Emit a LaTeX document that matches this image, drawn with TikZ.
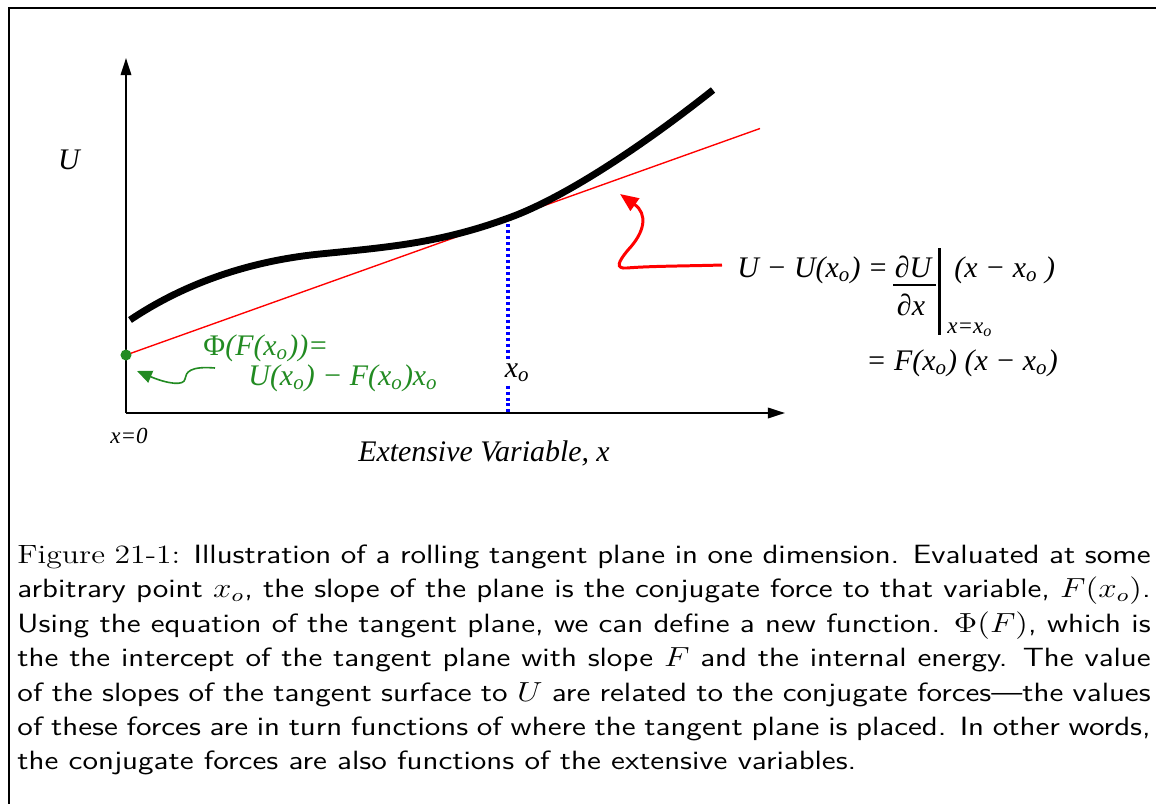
\documentclass[tikz,border=0pt]{standalone}
\usepackage{fontspec}
\newfontfamily\figfont{Liberation Serif}
\usetikzlibrary{arrows.meta}
\definecolor{phigreen}{RGB}{34,139,34}
\newcommand{\xo}{x\textsubscript{o}}
\newcommand{\widecaption}[1]{\scalebox{1.2}[1]{\parbox[t]{410.8pt}{%
  \sffamily\fontsize{11.5}{15}\selectfont #1}}}
\tikzset{
  % --- axes and curves ---
  axis/.style={line width=0.85pt, -{Triangle[length=7.5pt, width=4.6pt]}},
  ucurve/.style={line width=3pt},
  tangent/.style={red, line width=0.6pt},
  dropline/.style={blue, line width=1.4pt, dash pattern=on 1.3pt off 1.3pt},
  % --- labels ---
  lbl/.style={font=\figfont\itshape\fontsize{13}{15}\selectfont, inner sep=0pt},
  smalllbl/.style={font=\figfont\itshape\fontsize{10}{12}\selectfont, inner sep=0pt},
  philbl/.style={lbl, text=phigreen},
  % --- pointers ---
  pointer/.style={red, line width=1.3pt, -{Triangle[length=8pt, width=6.5pt]}},
  phipointer/.style={phigreen, line width=0.7pt, -{Triangle[length=6.5pt, width=5.5pt]}},
  captiontext/.style={inner sep=0pt},
}

\begin{document}
\begin{tikzpicture}[x=0.435pt, y=-0.435pt]
    \useasboundingbox (0,0) rectangle (1156,804);
    % ---- Frame ----
    \draw[line width=1.2pt] (9,804) |- (1156,8);
    % ---- Axes ----
    \coordinate (origin) at (126,413);
    \coordinate (ytip) at (126,58);
    \coordinate (xtip) at (785,413);
    \draw[axis] (origin) -- (ytip);
    \draw[axis] (origin) -- (xtip);
    % ---- Tangent point and intercept ----
    \coordinate (xo) at (508,218.2);
    \coordinate (xofoot) at (508,413);
    \coordinate (phi) at (126,355);
    \coordinate (tanend) at (760,128.5);
    \draw[dropline] (xo) -- (xofoot);
    \node[lbl, fill=white, inner sep=1pt, anchor=base west] (xolbl) at (502,377) {\xo};
    \draw[tangent] (phi) -- (tanend);
    % ---- U(x) ----
    \draw[ucurve] (130,320) .. controls (185,283) and (250,261) .. (320,254)
      .. controls (390,247) and (440,243) .. (xo)
      .. controls (568,196.7) and (650,140) .. (713,90);
    \fill[phigreen] (phi) circle (2.4pt);
    % ---- Axis labels ----
    \node[lbl, anchor=base] (ulbl) at (69,170) {U};
    \node[smalllbl, anchor=base west] (x0lbl) at (110,443) {x=0};
    \node[lbl, anchor=base] (xlbl) at (484,461) {Extensive Variable, x};
    % ---- Intercept label ----
    \node[philbl, anchor=base west] (philbl1) at (203,355) {{\upshape Φ}(F(\xo))=};
    \node[philbl, anchor=base west] (philbl2) at (248,385) {U(\xo) − F(\xo)\xo};
    \coordinate (phistart) at (215,368);
    \draw[phipointer] (phistart) .. controls (190,366) and (186,372) .. (185,379)
      .. controls (184,386) and (168,384) .. (137,371);
    % ---- Tangent equation ----
    \node[lbl, anchor=base west] (lhs) at (737,277) {U − U(\xo) =};
    \node[lbl, anchor=base] (num) at (913,277) {∂U};
    \node[lbl, anchor=base] (den) at (911,315) {∂x};
    \draw[line width=0.6pt] (893,285) -- (936,285);
    \draw[line width=1.3pt] (939,248) -- (939,335);
    \node[smalllbl, anchor=base west] (evalat) at (947,333) {x=\xo};
    \node[lbl, anchor=base west] (rhs1) at (954,277) {(x − \xo\ )};
    \node[lbl, anchor=base west] (rhs2) at (866,370) {= F(\xo) (x − \xo)};
    \coordinate (eqstart) at (722,265);
    \draw[pointer] (eqstart) .. controls (690,266) and (650,266) .. (627,268)
      .. controls (615,269) and (618,262) .. (628,250)
      .. controls (645,232) and (648,214) .. (620,194);
    % ---- Caption ----
    \node[captiontext, anchor=north west] (caption) at (17,544) {\widecaption{%
      {\rmfamily Figure 21-1:} Illustration of a rolling tangent plane in one dimension. Evaluated at some\linebreak
      arbitrary point $x_o$, the slope of the plane is the conjugate force to that variable, $F(x_o)$.\linebreak
      Using the equation of the tangent plane, we can define a new function. $\Phi(F)$, which is\linebreak
      the the intercept of the tangent plane with slope $F$ and the internal energy. The value\linebreak
      of the slopes of the tangent surface to $U$ are related to the conjugate forces---the values\linebreak
      of these forces are in turn functions of where the tangent plane is placed. In other words,\linebreak
      the conjugate forces are also functions of the extensive variables.}};
\end{tikzpicture}
\end{document}
